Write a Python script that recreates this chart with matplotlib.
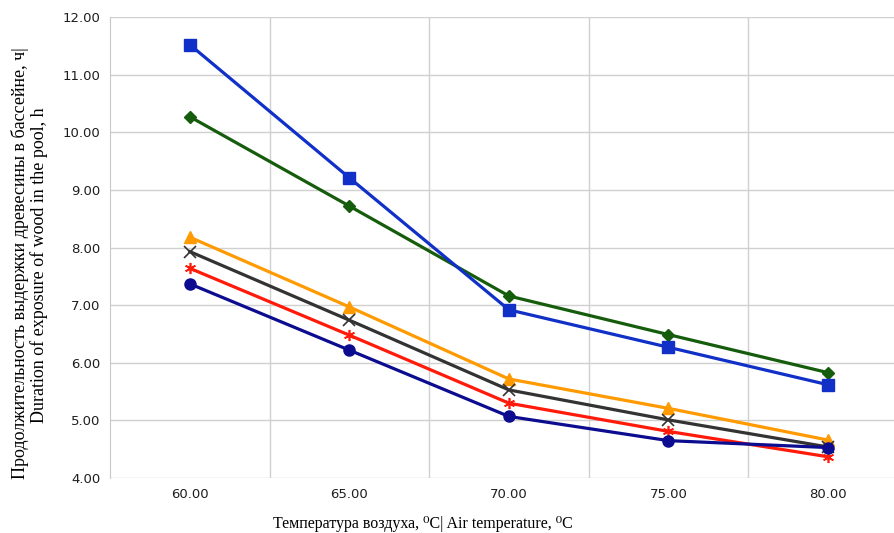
import matplotlib.pyplot as plt

temps = ["60.00", "65.00", "70.00", "75.00", "80.00"]

blue_sq = [11.52, 9.21, 6.92, 6.27, 5.62]
green_dia = [10.27, 8.72, 7.16, 6.49, 5.83]
orange_tri = [8.18, 6.97, 5.72, 5.21, 4.66]
black_x = [7.93, 6.74, 5.53, 5.01, 4.54]
red_star = [7.64, 6.48, 5.30, 4.81, 4.37]
navy_circ = [7.37, 6.22, 5.07, 4.65, 4.53]

fig = plt.figure(figsize=(8.95, 5.33), dpi=100)
ax = fig.add_axes([0.123, 0.103, 0.877, 0.865])

x = list(range(len(temps)))
ax.plot(x, orange_tri, color="#ff9a00", lw=2.3, marker="^", ms=8, zorder=3)
ax.plot(x, black_x, color="#333333", lw=2.3, marker="x", ms=8, mew=1.2, zorder=3)
ax.plot(x, red_star, color="#ff1a0a", lw=2.3, marker=(6, 2, 0), ms=8, mew=1.2, zorder=3)
ax.plot(x, navy_circ, color="#0c0c90", lw=2.3, marker="o", ms=8, zorder=4)
ax.plot(x, green_dia, color="#155c0c", lw=2.3, marker="D", ms=6, zorder=3)
ax.plot(x, blue_sq, color="#1030c8", lw=2.3, marker="s", ms=8, zorder=3)

ax.set_xlim(-0.5, 4.42)
ax.set_ylim(4, 12)
ax.set_yticks([4, 5, 6, 7, 8, 9, 10, 11, 12])
ax.set_yticklabels([f"{v:.2f}" for v in range(4, 13)])
ax.set_xticks(x)
ax.set_xticklabels(temps)
ax.set_xticks([0.5, 1.5, 2.5, 3.5], minor=True)
ax.grid(False)
ax.grid(True, which="minor", axis="x", color="#d0d0d0", lw=1)
ax.grid(True, which="major", axis="y", color="#d0d0d0", lw=1)
ax.tick_params(which="both", length=0)
ax.tick_params(axis="y", pad=7, labelsize=9.5)
ax.tick_params(axis="x", pad=7, labelsize=9.5)
for lab in ax.get_xticklabels() + ax.get_yticklabels():
    lab.set_fontfamily("Liberation Sans Narrow")
    lab.set_color("#1e1e1e")

for side in ["top", "right", "bottom"]:
    ax.spines[side].set_visible(False)
ax.spines["left"].set_color("#c8c8c8")

serif = ["Liberation Serif", "DejaVu Serif"]
fig.text(0.022, 0.507, "Продолжительность выдержки древесины в бассейне, ч|",
         rotation=90, ha="center", va="center", fontsize=13, family=serif)
fig.text(0.044, 0.503, "Duration of exposure of wood in the pool, h",
         rotation=90, ha="center", va="center", fontsize=13, family=serif)
fig.text(0.473, 0.009, "Температура воздуха, \u2070С| Air temperature, \u2070С",
         ha="center", va="baseline", fontsize=11.5, family=serif)

fig.savefig("out.png", dpi=100)
